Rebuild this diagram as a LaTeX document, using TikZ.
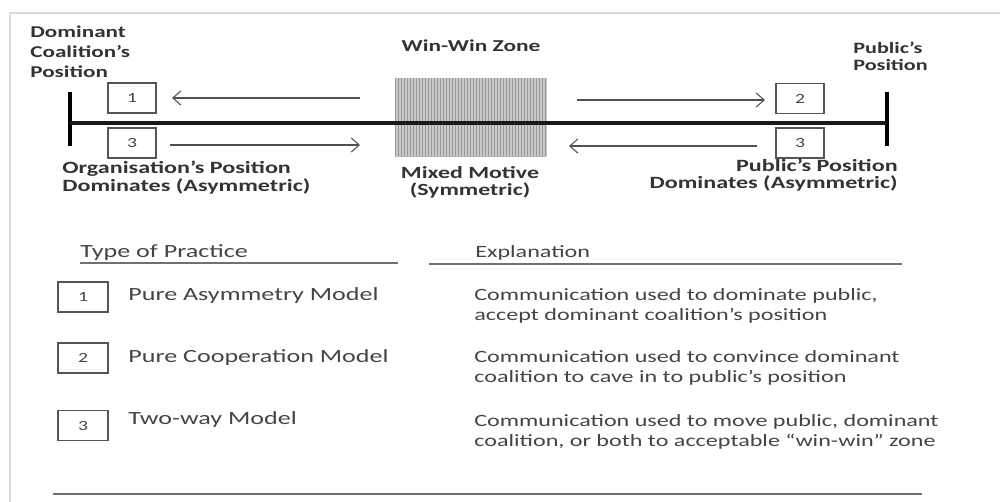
\documentclass[tikz,border=0pt]{standalone}
\usepackage{fontspec}
\setmainfont{Carlito}[FakeStretch=1.4]
\usetikzlibrary{arrows.meta}
\definecolor{labelgray}{HTML}{333333}
\definecolor{bodygray}{HTML}{444444}
\definecolor{boxgray}{HTML}{555555}
\definecolor{arrowgray}{HTML}{505050}
\definecolor{rulegray}{HTML}{707070}
\definecolor{framegray}{HTML}{DADADA}
\definecolor{hatchbg}{HTML}{C8C8C8}
\definecolor{hatchline}{HTML}{999999}
\tikzset{
  lbl/.style={inner sep=0pt, text=labelgray, font=\bfseries\fontsize{9.4}{11.6}\selectfont},
  body/.style={inner sep=0pt, text=bodygray, font=\fontsize{9.8}{11.9}\selectfont},
  model/.style={body, font=\fontsize{10.6}{11.9}\selectfont},
  numbox/.style={draw=boxgray, line width=0.8pt, minimum width=0.96cm, minimum height=0.6cm, inner sep=0pt, font=\fontsize{8}{8}\selectfont, text=bodygray},
  bignumbox/.style={numbox, line width=1pt, minimum width=1.0cm},
  arr/.style={draw=arrowgray, line width=0.6pt, -{Straight Barb[length=1.6mm,width=2.8mm]}},
  bar/.style={draw=black, line width=2.3pt},
  mainline/.style={draw=black!90, line width=1.9pt},
  rulel/.style={draw=rulegray, line width=1.1pt},
}
\begin{document}
\begin{tikzpicture}[x=0.02cm,y=-0.02cm]
\useasboundingbox (0,0) rectangle (1000,502);
% frame
\draw[framegray, line width=1.2pt] (10,502) -- (10,13) -- (1000,13);
% win-win zone
\node[name=zone, fill=hatchbg, inner sep=0pt, minimum width=3.04cm, minimum height=1.58cm] at (471,117.5) {};
\foreach \i in {0,...,50} \draw[hatchline, line width=0.45pt] ({395+3*\i},78) -- ({395+3*\i},157);
% bars and main line
\coordinate (lt) at (70,92); \coordinate (lb) at (70,146);
\coordinate (rt) at (887,92); \coordinate (rb) at (887,146);
\coordinate (lm) at (70,123); \coordinate (rm) at (887,123);
\draw[bar] (lt) -- (lb);
\draw[bar] (rt) -- (rb);
\draw[mainline] (lm) -- (rm);
% boxes
\node[numbox] (b1) at (132,98) {1};
\node[numbox] (b3l) at (132,143) {3};
\node[numbox] (b2) at (800,98.5) {2};
\node[numbox] (b3r) at (800,143) {3};
% arrows
\coordinate (a1s) at (360,98); \coordinate (a1e) at (172,98);
\coordinate (a3s) at (170,145); \coordinate (a3e) at (360,145);
\coordinate (a2s) at (577,100); \coordinate (a2e) at (765,100);
\coordinate (a4s) at (757,146); \coordinate (a4e) at (569,146);
\draw[arr] (a1s) -- (a1e);
\draw[arr] (a3s) -- (a3e);
\draw[arr] (a2s) -- (a2e);
\draw[arr] (a4s) -- (a4e);
% top labels (multi-line nodes: base = last line baseline)
\node[lbl, align=left, anchor=base west] (dcp) at (30,78) {Dominant\\Coalition’s\\Position};
\node[lbl, anchor=base, font=\bfseries\fontsize{9.5}{11}\selectfont] (wwz) at (471,52) {Win-Win Zone};
\node[lbl, align=left, anchor=base west, font=\bfseries\fontsize{9}{10.2}\selectfont] (pp) at (853,71) {Public’s\\Position};
\node[lbl, align=left, anchor=base west, font=\bfseries\fontsize{9.8}{10.8}\selectfont] (opd) at (62,192) {Organisation’s Position\\Dominates (Asymmetric)};
\node[lbl, align=center, anchor=base, font=\bfseries\fontsize{9.7}{10.2}\selectfont] (mm) at (470,196) {Mixed Motive\\(Symmetric)};
\node[lbl, align=right, anchor=base east, font=\bfseries\fontsize{9.8}{10.2}\selectfont] (ppd) at (898,189) {Public’s Position\\Dominates (Asymmetric)};
% table headers
\node[model, anchor=base west] (htp) at (80,258) {Type of Practice};
\node[body, anchor=base west] (hex) at (475,258) {Explanation};
\coordinate (u1s) at (80,263); \coordinate (u1e) at (398,263);
\coordinate (u2s) at (429,264); \coordinate (u2e) at (902,264);
\coordinate (bls) at (53,494); \coordinate (ble) at (922,494);
\draw[rulel] (u1s) -- (u1e);
\draw[rulel] (u2s) -- (u2e);
\draw[rulel] (bls) -- (ble);
% rows
\node[bignumbox] (t1) at (83,297) {1};
\node[bignumbox] (t2) at (83,358) {2};
\node[bignumbox] (t3) at (83,425.5) {3};
\node[model, anchor=base west] (m1) at (128,301) {Pure Asymmetry Model};
\node[model, anchor=base west] (m2) at (128,363) {Pure Cooperation Model};
\node[model, anchor=base west] (m3) at (128,425) {Two-way Model};
\node[body, align=left, anchor=base west] (e1) at (474,321) {Communication used to dominate public,\\accept dominant coalition’s position};
\node[body, align=left, anchor=base west] (e2) at (474,383) {Communication used to convince dominant\\coalition to cave in to public’s position};
\node[body, align=left, anchor=base west] (e3) at (474,447) {Communication used to move public, dominant\\coalition, or both to acceptable “win-win” zone};
\end{tikzpicture}
\end{document}
